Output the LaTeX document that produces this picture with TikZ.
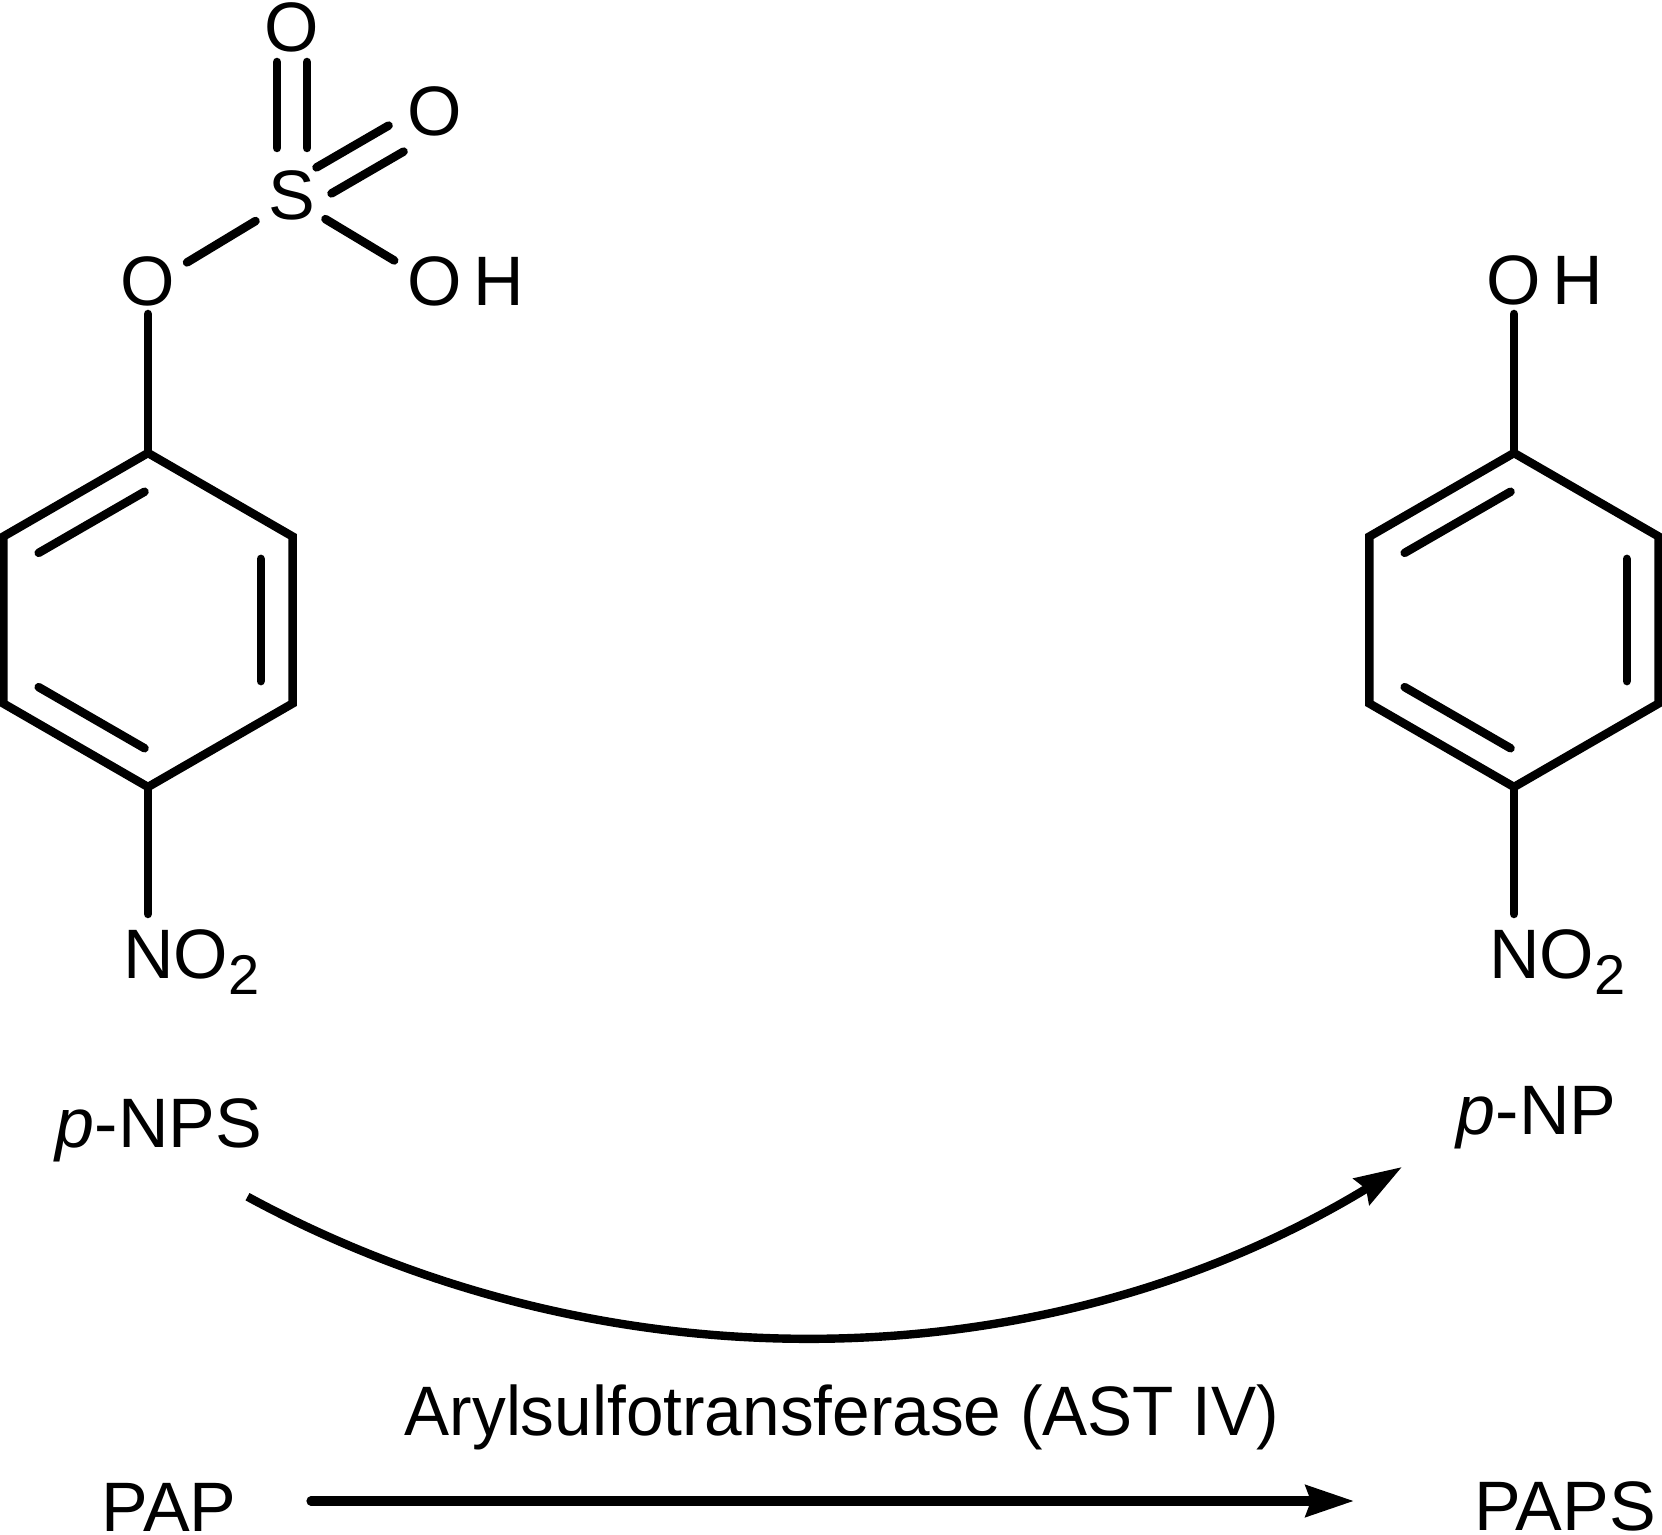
\documentclass[tikz,border=0pt]{standalone}
\usepackage{fontspec}
\setmainfont{Liberation Sans}
\usetikzlibrary{arrows.meta,calc}
\newcommand\subtwo{\raisebox{-8.5pt}{\fontsize{28pt}{30pt}\selectfont 2}}
\begin{document}
\begin{tikzpicture}[x=0.5pt,y=-0.5pt,
  bond/.style={line width=4.25pt, line cap=round},
  ringbond/.style={line width=4.25pt, line join=miter},
  lbl/.style={inner sep=0pt, anchor=base, font=\fontsize{35pt}{42pt}\selectfont},
  rxnarrow/.style={line width=4.6pt, line cap=round, -{Stealth[length=24pt, width=15.5pt, inset=2.5pt]}},
  curvearrow/.style={line width=4.2pt, line cap=butt, -{Stealth[length=23.5pt, width=15pt, inset=2.5pt]}}]
\fill[white] (0,0) rectangle (1662,1535);
\useasboundingbox (0,0) rectangle (1662,1535);

% ---------- left molecule: p-NPS ----------
\coordinate (ctrL) at (148,620);
\coordinate (L1) at (148,453);
\coordinate (L2) at (3.4,536.5);
\coordinate (L3) at (3.4,703.5);
\coordinate (L4) at (148,787);
\coordinate (L5) at (292.6,703.5);
\coordinate (L6) at (292.6,536.5);
\coordinate (LO1) at (148,286);
\coordinate (LS) at (292,199);
\coordinate (LO2) at (292,30);
\coordinate (LO3) at (435,116);
\coordinate (LO4) at (435,285);
\coordinate (LN) at (148,955);

\draw[ringbond] (L1) -- (L2) -- (L3) -- (L4) -- (L5) -- (L6) -- cycle;
\draw[bond, shorten <=2pt, shorten >=2pt] ($(ctrL)!0.78!(L1)$) -- ($(ctrL)!0.78!(L2)$);
\draw[bond, shorten <=2pt, shorten >=2pt] ($(ctrL)!0.78!(L5)$) -- ($(ctrL)!0.78!(L6)$);
\draw[bond, shorten <=2pt, shorten >=2pt] ($(ctrL)!0.78!(L3)$) -- ($(ctrL)!0.78!(L4)$);
\draw[bond, shorten >=14pt] (L1) -- (LO1);
\draw[bond, shorten <=22.8pt, shorten >=21.3pt] (LO1) -- (LS);
\draw[bond, shorten <=19.5pt, shorten >=23.8pt] (LS) -- (LO4);
\draw[bond, shorten <=18.5pt, shorten >=22.5pt] ($(LS)+(-7.5,-13)$) -- ($(LO3)+(-7.5,-13)$);
\draw[bond, shorten <=18.5pt, shorten >=22.5pt] ($(LS)+(7.5,13)$) -- ($(LO3)+(7.5,13)$);
\draw[bond, shorten <=25.5pt, shorten >=16pt] ($(LS)+(-15,0)$) -- ($(LO2)+(-15,0)$);
\draw[bond, shorten <=25.5pt, shorten >=16pt] ($(LS)+(15,0)$) -- ($(LO2)+(15,0)$);
\draw[bond, shorten >=20.5pt] (L4) -- (LN);

\node[lbl] (lO1) at (148,306) {O};
\node[lbl] (lS) at (292,220) {S};
\node[lbl] (lO2) at (292,51.5) {O};
\node[lbl] (lO3) at (435,135.5) {O};
\node[lbl] (lO4) at (435,306) {O};
\node[lbl] (lH) at (499,306) {H};
\node[lbl, anchor=base west] (lNO2) at (122.7,978) {NO\subtwo};
\node[lbl] (pnps) at (159,1147) {\textit{p}-NPS};

% ---------- right molecule: p-NP ----------
\coordinate (ctrR) at (1514,620);
\coordinate (R1) at (1514,453);
\coordinate (R2) at (1369.4,536.5);
\coordinate (R3) at (1369.4,703.5);
\coordinate (R4) at (1514,787);
\coordinate (R5) at (1658.6,703.5);
\coordinate (R6) at (1658.6,536.5);
\coordinate (RO) at (1514,286);
\coordinate (RN) at (1514,955);

\draw[ringbond] (R1) -- (R2) -- (R3) -- (R4) -- (R5) -- (R6) -- cycle;
\draw[bond, shorten <=2pt, shorten >=2pt] ($(ctrR)!0.78!(R1)$) -- ($(ctrR)!0.78!(R2)$);
\draw[bond, shorten <=2pt, shorten >=2pt] ($(ctrR)!0.78!(R5)$) -- ($(ctrR)!0.78!(R6)$);
\draw[bond, shorten <=2pt, shorten >=2pt] ($(ctrR)!0.78!(R3)$) -- ($(ctrR)!0.78!(R4)$);
\draw[bond, shorten >=14pt] (R1) -- (RO);
\draw[bond, shorten >=20.5pt] (R4) -- (RN);

\node[lbl] (rO) at (1513.5,305) {O};
\node[lbl] (rH) at (1578,305) {H};
\node[lbl, anchor=base west] (rNO2) at (1488.7,978) {NO\subtwo};
\node[lbl] (pnp) at (1536.5,1134) {\textit{p}-NP};

% ---------- reaction arrows ----------
\coordinate (cs) at (247.5,1196.7);
\coordinate (ce) at (1402,1167);
\draw[curvearrow] (cs) .. controls (609.5,1393.2) and (1049,1382) .. (ce);

\node[lbl] (enz) at (842,1435) {\scalebox{0.965}[1]{Arylsulfotransferase (AST IV)}};
\node[lbl] (pap) at (169,1531) {PAP};
\node[lbl] (paps) at (1565,1530.5) {PAPS};
\coordinate (as) at (311,1501);
\coordinate (ae) at (1354,1501);
\draw[rxnarrow] (as) -- (ae);
\end{tikzpicture}
\end{document}
